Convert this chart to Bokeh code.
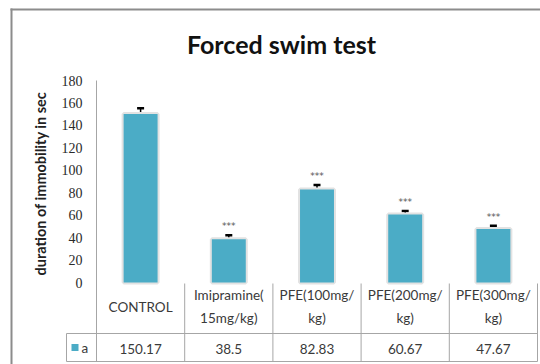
from bokeh.plotting import figure
from bokeh.models import Range1d, ColumnDataSource, Whisker, TeeHead
from bokeh.core.properties import value
from bokeh.embed import file_html
from bokeh.resources import INLINE

# ---- data ----
title_text = "Forced swim test"
y_label = "duration of immobility in sec"
categories = ["CONTROL", "Imipramine(\n15mg/kg)", "PFE(100mg/\nkg)", "PFE(200mg/\nkg)", "PFE(300mg/\nkg)"]
values = [150.17, 38.5, 82.83, 60.67, 47.67]
errors = [5.0, 3.5, 4.0, 3.0, 3.0]
stars = ["", "***", "***", "***", "***"]
series_name = "a"
y_ticks = [0, 20, 40, 60, 80, 100, 120, 140, 160, 180]

# ---- layout constants (page pixels) ----
W, H = 540, 364
ORIGIN = 0         # page offset of the canvas
AX_X = 96          # page x of y axis
COL_W = 88.2       # width of one category column
Y0 = 282           # page y of value 0
PX_PER_UNIT = 202 / 180.0

def dx(page_x):
    return (page_x - AX_X) / COL_W

def dy(page_y):
    return (Y0 - page_y) / PX_PER_UNIT

p = figure(width=W, height=H, output_backend="svg", toolbar_location=None,
           x_axis_type=None, y_axis_type=None,
           x_range=Range1d(dx(ORIGIN), dx(ORIGIN + W)),
           y_range=Range1d(dy(ORIGIN + H), dy(ORIGIN)),
           min_border=0)
p.outline_line_color = None
p.grid.visible = False
p.background_fill_color = "white"
p.border_fill_color = "white"

n = len(values)
xs = [i + 0.5 for i in range(n)]
BAR = "#4BACC6"
GRID = "#a6a6a6"
TXT = "#3a3a3a"
SANS = value("Lato")

# outer chart frame
p.segment(x0=[dx(11), dx(10)], y0=[dy(8), dy(9)], x1=[dx(11), dx(W)], y1=[dy(H), dy(9)],
          line_color="#8c8c8c", line_width=2)

# title
p.text(x=[dx(281)], y=[dy(43)], text=[title_text], text_font=SANS, text_font_size="25px",
       text_font_style="bold", text_align="center", text_baseline="middle", text_color="#111111")

# y axis label
p.text(x=[dx(40)], y=[dy(183)], text=[y_label], text_font=SANS, text_font_size="14.5px",
       text_font_style="bold", angle=1.5708, text_align="center", text_baseline="middle",
       text_color="#222222")

# y tick labels
p.text(x=[dx(82)] * len(y_ticks), y=y_ticks, text=[str(t) for t in y_ticks],
       text_font=value("Liberation Serif"), text_font_size="14px", text_align="right",
       text_baseline="middle", text_color="#2a2a2a")

# bars (with light halo)
src = ColumnDataSource(dict(x=xs, top=values, upper=[v + e for v, e in zip(values, errors)],
                            lower=values, stars=stars, label=categories,
                            vals=[str(v) for v in values]))
p.vbar(x="x", top="top", bottom=0, width=0.385, source=src, fill_color=BAR,
       line_color="#e2e2e2", line_width=4)
p.vbar(x="x", top="top", bottom=0, width=0.385, source=src, fill_color=BAR, line_color=None)

# error bars
p.add_layout(Whisker(source=src, base="x", upper="upper", lower="lower", line_color="black",
                     line_width=1.5, upper_head=TeeHead(size=7, line_width=2.5, line_color="black"),
                     lower_head=None))

# significance stars
p.text(x="x", y="upper", text="stars", source=src, y_offset=-9, text_font=value("DejaVu Sans"),
       text_font_size="9px", text_align="center", text_baseline="middle", text_color="#555555")

# table lines
p.segment(x0=[0], y0=[180], x1=[0], y1=[dy(361)], line_color=GRID, line_width=1)
p.segment(x0=[i for i in range(1, n + 1)], y0=[dy(283)] * n,
          x1=[i for i in range(1, n + 1)], y1=[dy(361)] * n, line_color=GRID, line_width=1)
p.segment(x0=[dx(66), dx(66), dx(66)], y0=[dy(333), dy(361), dy(333)],
          x1=[n, n, dx(66)], y1=[dy(333), dy(361), dy(361)], line_color=GRID, line_width=1)

# category labels
p.text(x="x", y=dy(306), text="label", source=src, text_font=SANS, text_font_size="13.5px",
       text_align="center", text_baseline="middle", text_color=TXT, text_line_height=1.45)

# data row
p.text(x="x", y=dy(348), text="vals", source=src, text_font=SANS, text_font_size="13.5px",
       text_align="center", text_baseline="middle", text_color=TXT)
p.rect(x=[dx(74.5)], y=[dy(347)], width=7, height=7, width_units="screen", height_units="screen",
       fill_color=BAR, line_color=None)
p.text(x=[dx(81)], y=[dy(347)], text=[series_name], text_font=SANS, text_font_size="13.5px",
       text_align="left", text_baseline="middle", text_color=TXT)

open("out.html", "w").write(file_html(p, INLINE))
